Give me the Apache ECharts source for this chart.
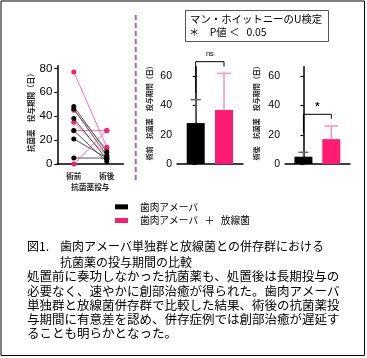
<!DOCTYPE html>
<html><head><meta charset="utf-8">
<script src="https://cdn.jsdelivr.net/npm/echarts@6/dist/echarts.min.js"></script>
<style>html,body{margin:0;padding:0;background:#fff}#c{width:367px;height:358px}</style>
</head><body><div id="c"></div>
<script>
// ---- data ----
const periods = ['術前', '術後'];
const groupNames = ['歯肉アメーバ', '歯肉アメーバ   ＋   放線菌'];
// paired antibiotic administration days (pre -> post)
const amoebaPre  = [48, 46, 38, 28, 21, 5];
const amoebaPost = [10, 7, 4, 2, 5, 5];
const mixedPre   = [77, 45, 35, 28, 0];
const mixedPost  = [14, 12, 7, 28, 28];
// bar means and upper error ends
const preMean  = [28, 37];
const preErrTop  = [44, 62];
const postMean = [5, 17];
const postErrTop = [8, 26];
// significance annotations [leftLeg, rightLeg, top]
const sigLabels = ['ns', '*'];
const preBracket  = [48.6, 66.6, 70];
const postBracket = [21, 31, 34];
const leftTicks = [0, 20, 40, 60, 80];
const barTicks = [0, 20, 40, 60];
const yNames = ['抗菌薬　投与期間（日）', '術前　抗菌薬　投与期間（日）', '術後　抗菌薬　投与期間（日）'];
const xName = '抗菌薬投与';
const testTitle = 'マン・ホイットニーのU検定';
const testNote = '＊　P値 ＜   0.05';
const figNo = '図1.';
const figTitle1 = '歯肉アメーバ単独群と放線菌との併存群における';
const figTitle2 = '抗菌薬の投与期間の比較';
const bodyLines = [
  '処置前に奏功しなかった抗菌薬も、処置後は長期投与の',
  '必要なく、速やかに創部治癒が得られた。歯肉アメーバ',
  '単独群と放線菌併存群で比較した結果、術後の抗菌薬投',
  '与期間に有意差を認め、併存症例では創部治癒が遅延す',
  'ることも明らかとなった。'
];

// ---- styles ----
const BLACK = '#000000', PINK = '#ff1a72';
const JP = '"Noto Sans CJK JP", sans-serif';
const NUM = '"Liberation Sans", Arial, sans-serif';

const chart = echarts.init(document.getElementById('c'), null, {renderer: 'canvas'});

function yAxisCfg(gi, max, ticks, name, fs, nameGap) {
  return {
    type: 'value', gridIndex: gi, min: 0, max: max,
    name: name, nameLocation: 'middle', nameGap: nameGap, nameRotate: 90,
    nameTextStyle: {fontFamily: JP, fontSize: fs, fontWeight: 'bold', color: '#222', padding: [0, 0, 0, 8]},
    axisLine: {show: true, lineStyle: {color: '#000', width: 1.5}},
    axisTick: {show: true, length: 3, lineStyle: {color: '#000', width: 1.2}, customValues: ticks},
    axisLabel: {customValues: ticks, fontFamily: NUM, fontSize: gi === 0 ? 11.5 : 10.5, color: '#000', margin: 5},
    splitLine: {show: false}
  };
}
function xBarAxis(gi) {
  return {
    type: 'value', gridIndex: gi, min: -0.66, max: 1.67,
    axisLine: {show: true, onZero: false, lineStyle: {color: '#000', width: 1.5}},
    axisTick: {show: false}, axisLabel: {show: false}, splitLine: {show: false}
  };
}

const series = [];
// paired lines (left panel)
mixedPre.forEach((v, i) => {
  series.push({
    type: 'line', name: 'm' + i, xAxisIndex: 0, yAxisIndex: 0,
    data: [v, mixedPost[i]], symbol: 'circle', symbolSize: 5,
    lineStyle: {color: '#ff6fae', width: 1}, itemStyle: {color: PINK}, z: 2, animation: false
  });
});
amoebaPre.forEach((v, i) => {
  series.push({
    type: 'line', name: 'a' + i, xAxisIndex: 0, yAxisIndex: 0,
    data: [v, amoebaPost[i]], symbol: 'circle', symbolSize: 5,
    lineStyle: {color: '#555555', width: 1}, itemStyle: {color: BLACK}, z: 3, animation: false
  });
});

// bars
[[preMean, preErrTop, preBracket, 1], [postMean, postErrTop, postBracket, 2]].forEach(([means, errs, br, gi], k) => {
  means.forEach((m, g) => {
    series.push({
      type: 'bar', name: groupNames[g], xAxisIndex: gi, yAxisIndex: gi,
      data: [[g, m]], barWidth: 18, barGap: '-100%',
      itemStyle: {color: g === 0 ? BLACK : PINK}, z: 2, animation: false
    });
  });
  series.push({
    type: 'custom', name: 'err' + k, xAxisIndex: gi, yAxisIndex: gi, clip: false, z: 3,
    encode: {x: 0, y: [1, 2]},
    data: means.map((m, g) => [g, m, errs[g]]),
    renderItem: function (params, api) {
      const g = api.value(0);
      const p0 = api.coord([g, api.value(1)]);
      const p1 = api.coord([g, api.value(2)]);
      const hw = g === 0 ? 5 : 7;
      const col = g === 0 ? '#666666' : '#ff8fbf';
      return {type: 'group', children: [
        {type: 'line', shape: {x1: p0[0], y1: p0[1], x2: p1[0], y2: p1[1]}, style: {stroke: col, lineWidth: 1.5}},
        {type: 'line', shape: {x1: p1[0] - hw, y1: p1[1], x2: p1[0] + hw, y2: p1[1]}, style: {stroke: col, lineWidth: 1.5}}
      ]};
    },
    animation: false
  });
  series.push({
    type: 'custom', name: 'sig' + k, xAxisIndex: gi, yAxisIndex: gi, clip: false, z: 4,
    encode: {x: 0, y: 1},
    data: [[0, br[0], br[1], br[2]]],
    renderItem: function (params, api) {
      const a = api.coord([0, api.value(1)]);
      const b = api.coord([1, api.value(2)]);
      const t = api.coord([0, api.value(3)])[1];
      const lbl = sigLabels[k];
      return {type: 'group', children: [
        {type: 'polyline', shape: {points: [[a[0], a[1]], [a[0], t], [b[0], t], [b[0], b[1]]]},
          style: {stroke: '#000', lineWidth: 1, fill: null}},
        {type: 'text', x: (a[0] + b[0]) / 2, y: t - (lbl === '*' ? 2 : 4),
          style: {text: lbl, fill: '#000', align: 'center', verticalAlign: 'bottom',
            font: lbl === '*' ? 'bold 11px ' + NUM : '7.5px ' + NUM}}
      ]};
    },
    animation: false
  });
});

const option = {
  backgroundColor: '#fff',
  animation: false,
  grid: [
    {left: 57.3, top: 65.7, width: 66, height: 98.3},
    {left: 177, top: 66.7, width: 66, height: 97.3},
    {left: 285, top: 66.7, width: 65, height: 97.3}
  ],
  xAxis: [
    {type: 'category', gridIndex: 0, data: periods, boundaryGap: true,
      name: xName, nameLocation: 'middle', nameGap: 19,
      nameTextStyle: {fontFamily: JP, fontSize: 7.7, fontWeight: 'bold', color: '#222'},
      axisLine: {lineStyle: {color: '#000', width: 1.5}}, axisTick: {show: false},
      axisLabel: {fontFamily: JP, fontSize: 7.5, fontWeight: 'bold', color: '#222', margin: 8}},
    xBarAxis(1), xBarAxis(2)
  ],
  yAxis: [
    yAxisCfg(0, 82.2, leftTicks, yNames[0], 7.5, 22),
    yAxisCfg(1, 66.57, barTicks, yNames[1], 7, 24),
    yAxisCfg(2, 66.57, barTicks, yNames[2], 7, 25)
  ],
  legend: {
    orient: 'vertical', left: 110, top: 197, itemWidth: 13, itemHeight: 5, itemGap: 4,
    icon: 'rect', data: groupNames, selectedMode: false,
    textStyle: {fontFamily: JP, fontSize: 9.7, color: '#000', padding: [0, 0, 0, 7]}
  },
  series: series,
  graphic: [
    {type: 'rect', shape: {x: 1, y: 1, width: 363.5, height: 354.5}, style: {fill: null, stroke: '#000', lineWidth: 1}, silent: true},
    {type: 'line', shape: {x1: 135.7, y1: 15, x2: 135.7, y2: 183}, style: {stroke: '#8e6fd0', lineWidth: 2, lineDash: [5, 3]}, silent: true},
    {type: 'rect', shape: {x: 185.5, y: 10.5, width: 143, height: 31}, style: {fill: '#fff', stroke: '#555', lineWidth: 1}, silent: true},
    {type: 'text', x: 190, y: 19.5, style: {text: testTitle, font: '10.4px ' + JP, fill: '#000', verticalAlign: 'middle'}},
    {type: 'text', x: 189, y: 32.5, style: {text: testNote, font: '10.4px ' + JP, fill: '#000', verticalAlign: 'middle'}},
    {type: 'text', x: 27, y: 246, style: {text: figNo, font: '12px ' + JP, fill: '#000', verticalAlign: 'middle'}},
    {type: 'text', x: 60, y: 246, style: {text: figTitle1, font: '12px ' + JP, fill: '#000', verticalAlign: 'middle'}},
    {type: 'text', x: 60, y: 262.5, style: {text: figTitle2, font: '12px ' + JP, fill: '#000', verticalAlign: 'middle'}},
    {type: 'text', x: 27, y: 269.6, style: {text: bodyLines.join('\n'), font: '12.5px ' + JP, lineHeight: 14.15, fill: '#000', verticalAlign: 'top'}}
  ]
};
chart.setOption(option);
</script>
</body></html>
